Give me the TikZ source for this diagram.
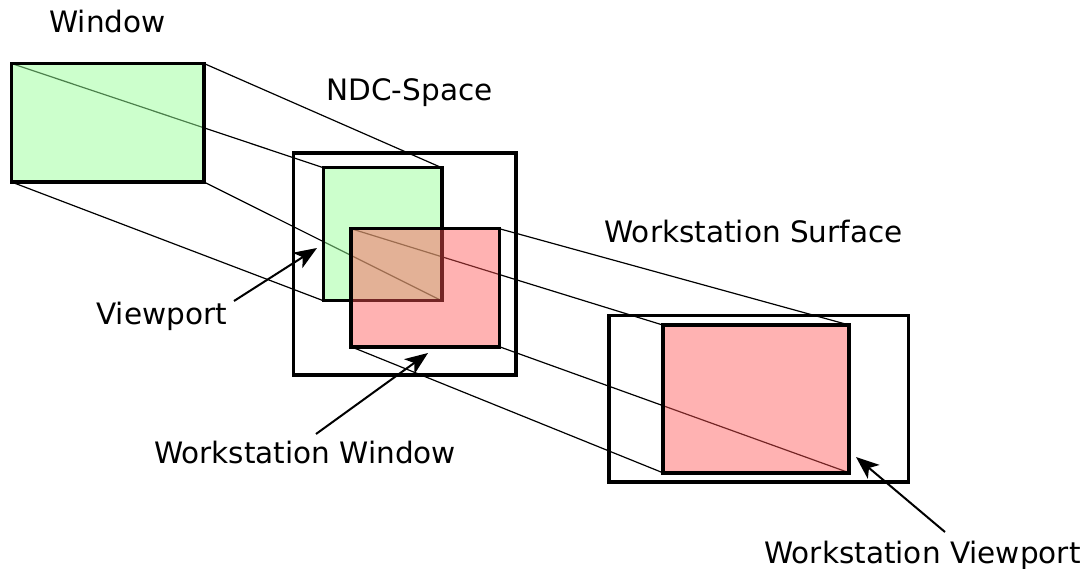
\documentclass[tikz,border=0pt]{standalone}
\usepackage{fontspec}
\setmainfont{DejaVu Sans}
\usetikzlibrary{arrows.meta}
\pgfdeclarelayer{bg}
\pgfsetlayers{bg,main}
\definecolor{greenbase}{rgb}{0.6,1,0.6}
\definecolor{redbase}{rgb}{1,0.33,0.33}
\tikzset{
  frame/.style={draw=black, line width=3.6pt, inner sep=0pt, outer sep=0pt},
  greenbox/.style={frame, fill=greenbase, fill opacity=0.5},
  redbox/.style={frame, fill=redbase, fill opacity=0.45},
  proj/.style={draw=black, line width=1.2pt},
  lbl/.style={anchor=base, inner sep=0pt, font=\fontsize{29.5}{35}\selectfont},
  pointer/.style={draw=black, line width=2pt, -{Stealth[length=23pt,width=18pt,inset=6pt]}}
}
\begin{document}
\begin{tikzpicture}[x=1pt,y=-1pt]
\useasboundingbox (0,0) rectangle (1087,569);

% outer spaces
\node[frame, minimum width=222.7pt, minimum height=221.7pt] (ndc) at (404.65,264.15) {};
\node[frame, minimum width=299.3pt, minimum height=166pt] (surf) at (758.65,398.7) {};

% windows and viewports
\node[greenbox, minimum width=192.5pt, minimum height=118.5pt] (win) at (107.75,122.75) {};
\node[greenbox, minimum width=118.4pt, minimum height=133pt] (vp) at (382.5,234.2) {};
\node[redbox, minimum width=148.3pt, minimum height=118pt] (wsw) at (425.15,287.7) {};
\node[redbox, minimum width=186.3pt, minimum height=147.7pt] (wsv) at (755.85,398.85) {};

% projection lines, drawn underneath the translucent fills
\begin{pgfonlayer}{bg}
  \draw[proj] (win.north west) -- (vp.north west);
  \draw[proj] (win.north east) -- (vp.north east);
  \draw[proj] (win.south west) -- (vp.south west);
  \draw[proj] (win.south east) -- (vp.south east);
  \draw[proj] (wsw.north west) -- (wsv.north west);
  \draw[proj] (wsw.north east) -- (wsv.north east);
  \draw[proj] (wsw.south west) -- (wsv.south west);
  \draw[proj] (wsw.south east) -- (wsv.south east);
\end{pgfonlayer}

% labels
\node[lbl] (lwin) at (107.5,33) {Window};
\node[lbl] (lndc) at (409.5,101) {NDC-Space};
\node[lbl] (lsurf) at (753.5,243) {Workstation Surface};
\node[lbl] (lvp) at (161.5,324) {Viewport};
\node[lbl] (lwsw) at (305,463) {Workstation Window};
\node[lbl] (lwsv) at (922.5,563) {Workstation Viewport};

% pointers from labels
\coordinate (vptail) at (234,301);
\coordinate (vptip) at (317,248);
\coordinate (wswtail) at (316,434);
\coordinate (wswtip) at (428,353);
\coordinate (wsvtail) at (945,532);
\coordinate (wsvtip) at (856,457);
\draw[pointer] (vptail) -- (vptip);
\draw[pointer] (wswtail) -- (wswtip);
\draw[pointer] (wsvtail) -- (wsvtip);
\end{tikzpicture}
\end{document}
